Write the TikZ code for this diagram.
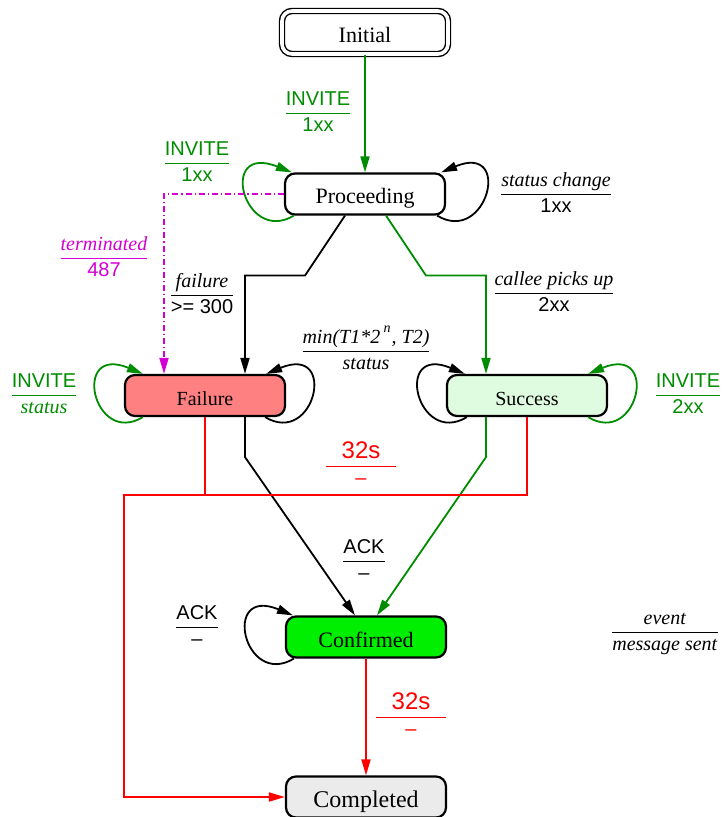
\documentclass[tikz,border=0pt]{standalone}
\usepackage{xcolor}
\usepackage{fontspec}
\setmainfont{Liberation Serif}
\setsansfont{Liberation Sans}
\usetikzlibrary{arrows.meta,positioning,calc}
\definecolor{sipgreen}{RGB}{0,140,0}
\definecolor{sipmagenta}{RGB}{210,0,210}
\definecolor{failfill}{RGB}{255,128,128}
\definecolor{succfill}{RGB}{224,252,224}
\definecolor{conffill}{RGB}{0,238,0}
\definecolor{compfill}{RGB}{235,235,235}
\newcommand{\evt}[2]{\renewcommand{\arraystretch}{1.05}\begin{tabular}{@{}c@{}}#1\\\hline #2\end{tabular}}
\tikzset{
    sipstate/.style={draw,line width=1.1pt,rounded corners=5pt,minimum width=80pt,minimum height=20.5pt,inner sep=0pt,text height=10pt,text depth=0pt,font=\fontsize{11}{13}\selectfont},
    arr/.style={-{Triangle[length=8pt,width=4.5pt]},line width=0.9pt},
    line/.style={line width=0.9pt},
    tdash/.style={dash pattern=on 3pt off 1.5pt on 0.6pt off 1.5pt},
    lbl/.style={inner sep=0pt,align=center,font=\fontsize{10}{12}\selectfont},
}

\begin{document}
\begin{tikzpicture}[x=0.5pt,y=-0.5pt]
    \useasboundingbox (0,0) rectangle (722,817);
    \node[sipstate,double,double distance=1.8pt,line width=0.7pt,minimum width=83pt,minimum height=21.5pt] (init) at (365,32.5) {Initial};
    \node[sipstate] (pro) at (365,194) {Proceeding};
    \node[sipstate,fill=failfill,font=\fontsize{10}{12}\selectfont] (fail) at (205,395.5) {Failure};
    \node[sipstate,fill=succfill,font=\fontsize{10}{12}\selectfont] (succ) at (527,395.5) {Success};
    \node[sipstate,fill=conffill] (conf) at (366,637) {Confirmed};
    \node[sipstate,fill=compfill,font=\fontsize{12}{14}\selectfont] (comp) at (366,797) {Completed};
    \coordinate (bend) at (124,495);

    \draw[arr,sipgreen] (init) -- (pro);
    \draw[arr,sipgreen] ([xshift=5pt]pro.south west) .. controls +(-50,30) and +(-75,-30) .. ([xshift=4pt]pro.north west);
    \draw[arr] ([xshift=-4.5pt]pro.south east) .. controls +(50,30) and +(72,-30) .. ([xshift=-2.5pt]pro.north east);
    \draw[arr] ([xshift=-10pt]pro.south) -- ++(-40,60) -| ([xshift=20pt]fail.north);
    \draw[arr,sipgreen] ([xshift=10.5pt]pro.south) -- ++(40,60) -| ([xshift=-20.5pt]succ.north);
    \draw[arr,sipmagenta,tdash] (pro.west) -| ([xshift=-20.5pt]fail.north);

    \draw[arr,sipgreen] ([xshift=9.5pt]fail.south west) .. controls +(-50,30) and +(-72,-30) .. ([xshift=9.5pt]fail.north west);
    \draw[arr] ([xshift=-10.5pt]fail.south east) .. controls +(50,30) and +(72,-30) .. ([xshift=-10pt]fail.north east);
    \draw[arr] ([xshift=10.5pt]succ.south west) .. controls +(-50,30) and +(-72,-30) .. ([xshift=9.5pt]succ.north west);
    \draw[arr,sipgreen] ([xshift=-10pt]succ.south east) .. controls +(50,30) and +(72,-30) .. ([xshift=-10pt]succ.north east);

    \draw[arr] ([xshift=20pt]fail.south) -- ++(0,40) -- ([xshift=-5.5pt]conf.north);
    \draw[arr,sipgreen] ([xshift=-20.5pt]succ.south) -- ++(0,40) -- ([xshift=5.5pt]conf.north);
    \draw[line,red] (fail.south) -- (fail.south |- bend);
    \draw[arr,red] (succ.south) |- (bend) |- (comp.west);
    \draw[arr] ([xshift=4.5pt]conf.south west) .. controls +(-50,30) and +(-72,-30) .. ([xshift=4pt]conf.north west);
    \draw[arr,red] (conf) -- (comp);

    \node[lbl,sipgreen] (invpro) at (318,113) {\evt{\textsf{INVITE}}{\textsf{1xx}}};
    \node[lbl,sipgreen] (invloop) at (197,163) {\evt{\textsf{INVITE}}{\textsf{1xx}}};
    \node[lbl] (stchg) at (556,194) {\evt{\textit{status change}}{\textsf{1xx}}};
    \node[lbl] (flr) at (202,295) {\evt{\textit{failure}}{\textsf{>= 300}}};
    \node[lbl] (callee) at (554,293) {\evt{\textit{callee picks up}}{\textsf{2xx}}};
    \node[lbl,sipmagenta] (term) at (104,258) {\evt{\textit{terminated}}{\textsf{487}}};
    \node[lbl,sipgreen] (invfail) at (44,395) {\evt{\textsf{INVITE}}{\textit{status}}};
    \node[lbl] (retr) at (366,351) {\evt{\textit{min(T1*2\,\raisebox{1.5pt}{\textsuperscript{n}}, T2)}}{\textit{status}}};
    \node[lbl,sipgreen] (invsucc) at (688,395) {\evt{\textsf{INVITE}}{\textsf{2xx}}};
    \node[lbl,red] (tmr) at (361,466) {\evt{\makebox[35pt]{\sffamily\fontsize{12}{14}\selectfont 32s}}{\textsf{--}}};
    \node[lbl] (ack) at (364,561) {\evt{\textsf{ACK}}{\textsf{--}}};
    \node[lbl] (ackloop) at (197,627) {\evt{\textsf{ACK}}{\textsf{--}}};
    \node[lbl,red] (tmrconf) at (411,717) {\evt{\makebox[35pt]{\sffamily\fontsize{12}{14}\selectfont 32s}}{\textsf{--}}};
    \node[lbl] (key) at (665,632) {\evt{\textit{event}}{\textit{message sent}}};
\end{tikzpicture}
\end{document}
